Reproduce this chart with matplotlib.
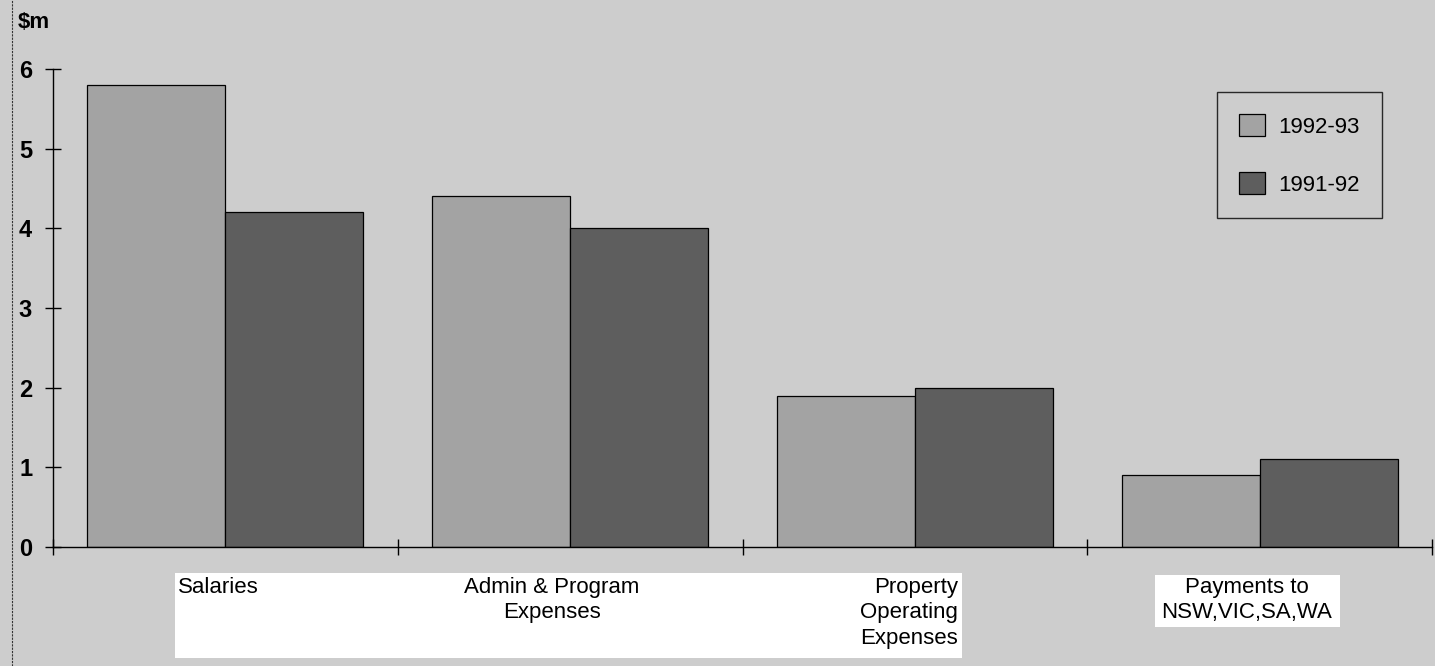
import numpy as np
import matplotlib.pyplot as plt
from matplotlib.patches import Rectangle

plt.rcParams['font.family'] = ['Liberation Sans', 'DejaVu Sans']

categories = ['Salaries', 'Admin & Program\nExpenses', 'Property\nOperating\nExpenses',
              'Payments to\nNSW,VIC,SA,WA']
years = ['1992-93', '1991-92']
vals_9293 = [5.8, 4.4, 1.9, 0.9]
vals_9192 = [4.2, 4.0, 2.0, 1.1]

W, H = 1435, 666
bg = '#cdcdcd'
col_9293 = '#a3a3a3'
col_9192 = '#5e5e5e'

fig = plt.figure(figsize=(W / 100, H / 100), dpi=100, facecolor=bg)
ax = fig.add_axes([53 / W, (H - 547) / H, (1432 - 53) / W, (547 - 69) / H])
ax.set_facecolor(bg)

x = np.arange(len(categories))
w = 0.4
ax.bar(x - w / 2, vals_9293, w, color=col_9293, edgecolor='black', linewidth=0.9, label=years[0])
ax.bar(x + w / 2, vals_9192, w, color=col_9192, edgecolor='black', linewidth=0.9, label=years[1])

ax.set_xlim(-0.5, len(categories) - 0.5)
ax.set_ylim(0, 6)
ax.set_yticks(range(7))
ax.set_xticks(np.arange(len(categories) + 1) - 0.5)
ax.set_xticklabels([])
for s in ['top', 'right']:
    ax.spines[s].set_visible(False)
for s in ['left', 'bottom']:
    ax.spines[s].set_linewidth(1.0)
ax.tick_params(axis='y', direction='inout', length=12, width=1, labelsize=17, pad=9)
ax.tick_params(axis='x', direction='inout', length=12, width=1)
for t in ax.get_yticklabels():
    t.set_fontweight('bold')

fig.text(18 / W, 1 - 23 / H, '$m', fontsize=16, fontweight='bold', va='center', ha='left')

# white boxes behind category labels
pix = fig.transFigure
fig.patches.append(Rectangle((175 / W, 1 - 658 / H), (962 - 175) / W, (658 - 573) / H,
                             transform=pix, facecolor='white', edgecolor='none', zorder=0.5))
fig.patches.append(Rectangle((1155 / W, 1 - 627 / H), (1340 - 1155) / W, (627 - 575) / H,
                             transform=pix, facecolor='white', edgecolor='none', zorder=0.5))

label_pos = [(178, 'left'), (552, 'center'), (958, 'right'), (1247, 'center')]
for lab, (px, ha) in zip(categories, label_pos):
    fig.text(px / W, 1 - 577 / H, lab, fontsize=16, ha=ha, va='top',
             multialignment=ha, linespacing=1.28, zorder=2)

leg = ax.legend(loc='upper left', bbox_to_anchor=((1217 - 53) / (1432 - 53), (547 - 92) / (547 - 69)),
                frameon=True, fontsize=16, handlelength=1.15, handleheight=1.15,
                labelspacing=1.55, borderpad=1.0, handletextpad=0.6, fancybox=False, borderaxespad=0)
leg.get_frame().set_edgecolor('black')
leg.get_frame().set_facecolor(bg)
leg.get_frame().set_linewidth(1.0)

fig.add_artist(plt.Line2D([12 / W, 12 / W], [0, 1], transform=fig.transFigure,
                          color='#333333', linewidth=0.8, linestyle=(0, (2, 1))))

fig.savefig('out.png', dpi=100, facecolor=bg)
